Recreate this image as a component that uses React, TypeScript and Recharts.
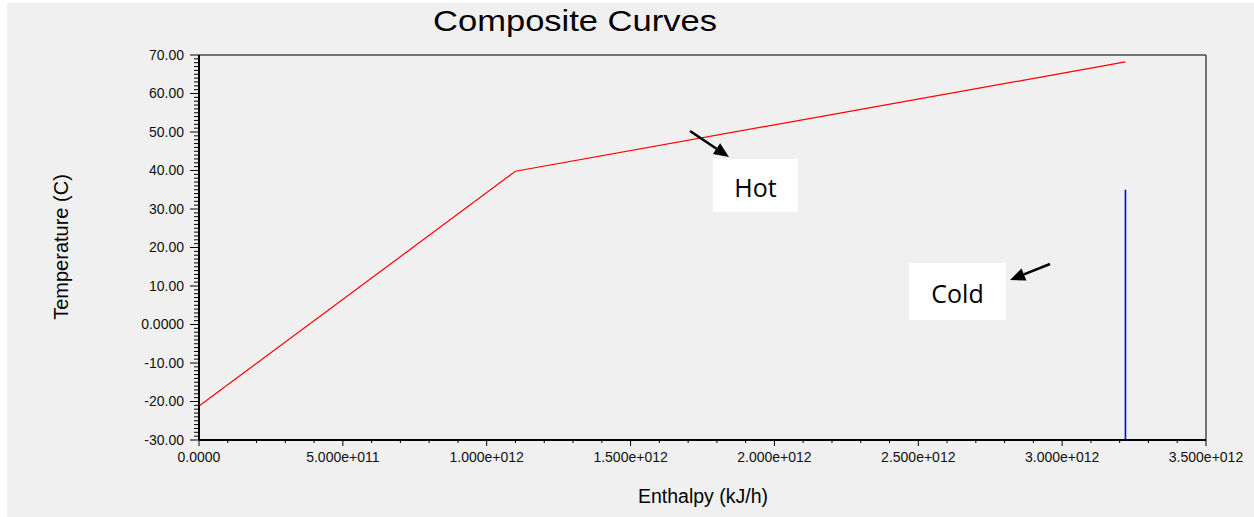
import { LineChart, Line, XAxis, YAxis, ReferenceLine } from "recharts";

// Composite curve points: enthalpy (kJ/h) vs temperature (C)
const hotEnthalpy = [0, 1.1e12, 3.22e12];
const hotTemp = [-21.2, 39.8, 68.2];
const coldEnthalpy = [3.22e12, 3.22e12];
const coldTemp = [-30, 35];

// every 1 C on the y axis, labelled every 10; every 1e11 on x, labelled every 5e11
const yTicks = Array.from({ length: 101 }, (_, i) => i - 30);
const xTicks = Array.from({ length: 36 }, (_, i) => i * 1e11);

const hotData = hotEnthalpy.map((h, i) => ({ h, t: hotTemp[i] }));
const coldData = coldEnthalpy.map((h, i) => ({ h, t: coldTemp[i] }));

const fmtY = (v: number) => (v === 0 ? "0.0000" : v.toFixed(2));
const fmtX = (v: number) =>
  v === 0
    ? "0.0000"
    : v.toExponential(3).replace(/e\+(\d+)/, (_m, d: string) => "e+" + d.padStart(3, "0"));

const axisFont = "'Liberation Sans', Arial, sans-serif";

function YTick({ x, y, payload }: any) {
  const v = payload.value as number;
  const major = Math.round(v) % 10 === 0;
  return (
    <g>
      <line x1={x - (major ? 9 : 5)} x2={x} y1={y} y2={y} stroke="#000" />
      {major && (
        <text x={x - 15} y={y} dy="0.35em" textAnchor="end" fontSize={14} fill="#111" fontFamily={axisFont}>
          {fmtY(v)}
        </text>
      )}
    </g>
  );
}

function XTick({ x, y, payload }: any) {
  const v = payload.value as number;
  const major = Math.round(v / 1e11) % 5 === 0;
  return (
    <g>
      <line x1={x} x2={x} y1={y} y2={y + (major ? 6 : 3)} stroke="#000" />
      {major && (
        <text x={x} y={y + 12} dy="0.71em" textAnchor="middle" fontSize={14} fill="#111" fontFamily={axisFont}>
          {fmtX(v)}
        </text>
      )}
    </g>
  );
}

function Arrow({ x1, y1, x2, y2 }: { x1: number; y1: number; x2: number; y2: number }) {
  const a = Math.atan2(y2 - y1, x2 - x1);
  const len = 15;
  const half = 6.5;
  const bx = x2 - len * Math.cos(a);
  const by = y2 - len * Math.sin(a);
  const px = -Math.sin(a) * half;
  const py = Math.cos(a) * half;
  return (
    <g>
      <line x1={x1} y1={y1} x2={bx} y2={by} stroke="#000" strokeWidth={2.5} />
      <polygon points={`${x2},${y2} ${bx + px},${by + py} ${bx - px},${by - py}`} fill="#000" />
    </g>
  );
}

const boxStyle = (left: number, top: number, width: number, height: number) => ({
  position: "absolute" as const,
  left,
  top,
  width,
  height,
  background: "#fff",
  display: "flex",
  alignItems: "center",
  justifyContent: "center",
  fontFamily: "'Open Sans', sans-serif",
  fontSize: 25,
  paddingTop: 3,
  boxSizing: "border-box" as const,
  color: "#000",
});

export default function App() {
  return (
    <div style={{ position: "relative", width: 1254, height: 517, background: "#fff", overflow: "hidden" }}>
      <style>{`body{margin:0}`}</style>
      <div style={{ position: "absolute", left: 7, top: 3, width: 1247, height: 514, background: "#f0f0f0" }} />
      <div style={{ position: "absolute", left: 0, top: 0 }}>
        <LineChart width={1254} height={517} margin={{ top: 55, right: 48, bottom: 47, left: 119 }}>
          <XAxis
            type="number"
            dataKey="h"
            domain={[0, 3.5e12]}
            ticks={xTicks}
            interval={0}
            tick={<XTick />}
            tickSize={0}
            tickMargin={0}
            height={30}
            axisLine={{ stroke: "#000", strokeWidth: 2 }}
            tickLine={false}
            allowDataOverflow
          />
          <YAxis
            type="number"
            domain={[-30, 70]}
            ticks={yTicks}
            interval={0}
            tick={<YTick />}
            tickSize={0}
            tickMargin={0}
            width={80}
            axisLine={{ stroke: "#000", strokeWidth: 2 }}
            tickLine={false}
            allowDataOverflow
          />
          <ReferenceLine y={70} stroke="#4a4a4a" strokeWidth={1.5} />
          <ReferenceLine x={3.5e12} stroke="#4a4a4a" strokeWidth={1.5} />
          <Line data={hotData} dataKey="t" stroke="#ff0000" strokeWidth={1.2} dot={false} isAnimationActive={false} />
          <Line data={coldData} dataKey="t" stroke="#0000ff" strokeWidth={1.6} dot={false} isAnimationActive={false} />
        </LineChart>
      </div>
      <div
        style={{
          position: "absolute",
          left: 575,
          top: 21,
          transform: "translate(-50%, -50%) scaleX(1.15)",
          whiteSpace: "nowrap",
          fontFamily: axisFont,
          fontSize: 30,
          lineHeight: "34px",
          color: "#000",
        }}
      >
        Composite Curves
      </div>
      <div
        style={{
          position: "absolute",
          left: 61,
          top: 247,
          transform: "translate(-50%, -50%) rotate(-90deg)",
          whiteSpace: "nowrap",
          fontFamily: axisFont,
          fontSize: 20,
          lineHeight: "24px",
          color: "#000",
        }}
      >
        Temperature (C)
      </div>
      <div
        style={{
          position: "absolute",
          left: 703,
          top: 496,
          transform: "translate(-50%, -50%)",
          whiteSpace: "nowrap",
          fontFamily: axisFont,
          fontSize: 19.5,
          lineHeight: "24px",
          color: "#000",
        }}
      >
        Enthalpy (kJ/h)
      </div>
      <div style={boxStyle(713, 159, 85, 53)}>Hot</div>
      <div style={boxStyle(909, 263, 97, 57)}>Cold</div>
      <svg width={1254} height={517} style={{ position: "absolute", left: 0, top: 0, pointerEvents: "none" }}>
        <Arrow x1={690} y1={131} x2={729} y2={157} />
        <Arrow x1={1050} y1={264} x2={1010} y2={280} />
      </svg>
    </div>
  );
}
